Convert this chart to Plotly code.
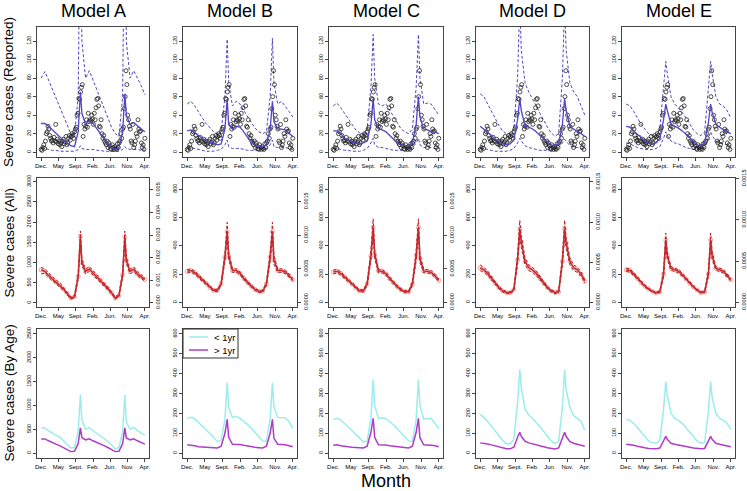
import numpy as np
import plotly.graph_objects as go

# ---------------- data ----------------
models = ["Model A", "Model B", "Model C", "Model D", "Model E"]
month_labels = ["Dec.", "May", "Sept.", "Feb.", "Jun.", "Nov.", "Apr."]
legend_labels = ["< 1yr", "> 1yr"]

# model output time grid (months since Dec.)
xg = list(range(0, 11)) + [10.6] + list(range(11, 23)) + [22.6] + list(range(23, 29))

# observed weekly reported severe cases
obs = [3, 2, 5, 8, 4, 12, 20, 22, 28, 25, 18, 15, 12, 13, 10, 16, 12, 30, 11, 14,
       9, 12, 8, 10, 6, 12, 14, 9, 11, 17, 8, 10, 15, 18, 13, 17, 20, 18, 15, 22,
       25, 27, 40, 42, 58, 57, 65, 70, 73, 17, 30, 25, 28, 35, 27, 42, 33, 35, 34, 40,
       36, 30, 42, 35, 48, 57, 58, 50, 28, 27, 35, 20, 15, 18, 12, 10, 8, 12, 5, 10,
       7, 4, 3, 8, 5, 3, 6, 4, 3, 9, 5, 10, 12, 20, 15, 25, 27, 47, 60, 88,
       73, 40, 35, 28, 25, 12, 10, 30, 5, 8, 12, 20, 17, 35, 25, 22, 23, 10, 5, 8,
       3, 15]

# Row 1: reported (median, upper, lower)
A_med = [31,31,28,24,20,16,13,10,7,6,22, 65, 42,30,34,31,26,20,14,9,5,3,5,22, 63, 40,30,32,28,25,22]
A_up  = [80,87,78,68,58,48,38,28,20,18,60, 300, 120,80,88,78,68,57,47,37,27,20,17,60, 300, 120,80,88,80,72,62]
A_lo  = [5,4,3,2,2,1,1,1,1,1,3, 7, 4,3,3,3,2,2,1,1,1,1,1,3, 6, 4,3,3,3,2,2]
B_med = [23,24,21,18,15,12,11,10,8,9,25, 57, 30,25,28,27,22,16,12,8,6,6,8,25, 55, 33,25,25,24,20,17]
B_up  = [52,55,50,43,37,31,26,22,20,22,60, 122, 75,50,55,52,45,38,32,26,22,20,22,60, 123, 75,52,55,50,44,38]
B_lo  = [6,5,4,3,2,1,1,1,2,3,8, 13, 6,4,4,4,3,2,2,2,2,3,4,8, 13, 6,5,5,5,4,3]
C_med = [23,23,20,15,13,11,10,9,10,12,30, 58, 35,25,24,22,18,14,10,8,7,7,10,30, 60, 38,25,24,22,22,20]
C_up  = [50,53,48,42,35,29,24,21,20,25,70, 127, 80,52,50,52,45,38,31,25,22,20,25,70, 127, 80,52,53,52,46,40]
C_lo  = [4,4,3,2,2,1,1,1,2,4,10, 15, 8,5,5,4,3,2,2,2,2,3,5,10, 15, 8,5,5,5,4,4]
D_med = [28,25,22,18,14,11,9,8,9,13,35, 58, 45,28,27,25,22,18,14,11,8,7,9,30, 58, 45,28,25,22,20,17]
D_up  = [63,60,52,44,36,29,23,20,20,25,80, 160, 110,75,65,58,50,42,34,27,21,17,20,80, 160, 110,75,65,60,50,40]
D_lo  = [5,4,3,2,1,1,1,1,2,4,10, 15, 12,7,5,4,3,2,2,2,2,3,5,10, 14, 12,7,5,5,4,3]
E_med = [28,27,23,19,15,12,10,9,10,15,35, 52, 45,30,28,26,23,19,15,11,8,7,10,32, 52, 43,30,27,24,22,20]
E_up  = [52,50,44,37,30,25,20,18,18,25,70, 98, 85,60,52,48,43,37,30,24,20,18,22,70, 98, 85,60,52,50,45,37]
E_lo  = [10,9,7,5,4,3,3,3,4,6,15, 22, 18,12,10,9,7,5,4,3,3,3,5,15, 22, 18,12,10,9,8,7]

# Row 2: all severe cases (median, upper, lower)
A2_med = [820,780,680,600,520,450,350,240,120,150,650, 1650, 1000,780,840,740,650,560,460,360,250,120,180,700, 1630, 1050,780,830,720,650,580]
A2_up  = [880,840,740,650,570,500,390,280,150,190,720, 1780, 1080,840,900,800,700,610,500,400,290,150,220,770, 1780, 1130,840,890,780,700,630]
A2_lo  = [720,730,630,550,480,410,310,200,95,120,580, 1500, 920,720,780,690,600,510,420,320,210,95,150,630, 1480, 970,720,770,670,600,540]
B2_med = [220,225,210,185,160,135,105,85,85,130,320, 500, 330,225,225,205,170,140,115,92,78,78,130,320, 500, 300,225,225,215,190,160]
B2_up  = [232,237,222,196,170,145,114,93,93,143,350, 565, 360,238,237,217,181,150,124,100,86,86,142,350, 565, 330,238,237,227,201,170]
B2_lo  = [208,213,198,174,150,125,96,77,77,118,290, 450, 300,212,213,193,159,130,106,84,70,70,118,290, 450, 270,212,213,203,179,150]
C2_med = [215,220,205,180,155,130,102,82,82,130,330, 530, 340,222,220,202,168,138,112,90,76,76,130,330, 530, 310,222,220,212,188,155]
C2_up  = [228,233,217,191,165,140,111,90,90,145,365, 590, 370,235,232,214,179,148,121,98,84,84,144,365, 590, 340,235,232,224,199,165]
C2_lo  = [202,207,193,169,145,120,93,74,74,115,295, 470, 310,209,208,190,157,128,103,82,68,68,116,295, 470, 280,209,208,200,177,145]
D2_med = [245,230,205,170,135,105,82,70,68,90,300, 520, 430,290,245,230,205,170,135,105,82,70,75,290, 520, 420,290,245,230,200,150]
D2_up  = [265,248,221,184,146,114,90,77,75,100,330, 580, 470,315,265,248,221,184,146,114,90,77,83,320, 580, 460,315,265,248,216,163]
D2_lo  = [225,212,189,156,124,96,74,63,61,80,270, 470, 390,265,225,212,189,156,124,96,74,63,67,260, 470, 380,265,225,212,184,137]
E2_med = [230,225,200,170,140,115,95,78,68,75,200, 440, 330,240,230,220,195,165,135,110,88,70,75,200, 440, 330,240,230,220,190,160]
E2_up  = [242,237,211,180,148,122,101,83,73,82,225, 490, 360,253,242,232,206,175,143,117,94,75,82,225, 490, 360,253,242,232,201,170]
E2_lo  = [218,213,189,160,132,108,89,73,63,68,180, 400, 300,227,218,208,184,155,127,103,82,65,68,180, 400, 300,227,218,208,179,150]

# Row 3: by age (<1yr, >1yr)
A3_lt = [530,530,470,420,380,340,270,200,110,120,450, 1230, 700,500,540,470,420,370,310,250,180,95,120,450, 1220, 650,500,540,480,420,380]
A3_gt = [300,300,260,220,190,160,120,80,35,40,200, 530, 330,280,300,260,230,200,160,120,80,35,40,200, 530, 320,280,300,260,220,190]
B3_lt = [175,180,172,155,135,118,100,80,58,65,170, 355, 230,180,185,175,160,145,125,105,85,62,60,170, 355, 230,180,180,178,160,125]
B3_gt = [43,42,38,33,31,30,29,28,26,35,100, 170, 80,45,45,44,40,36,32,30,28,26,35,100, 170, 75,45,44,42,38,33]
C3_lt = [170,175,168,150,130,112,95,75,57,62,175, 370, 240,175,178,172,158,143,123,103,83,62,60,170, 370, 240,172,172,175,150,122]
C3_gt = [40,42,38,34,32,30,29,28,26,35,105, 175, 80,42,42,41,38,35,32,30,28,26,35,105, 175, 78,42,42,40,37,33]
D3_lt = [195,180,160,135,115,90,65,48,47,70,250, 420, 330,220,192,175,155,133,110,85,62,48,60,230, 420, 320,230,190,175,160,115]
D3_gt = [52,50,46,42,37,32,27,23,22,30,80, 105, 85,60,52,48,43,38,33,28,24,21,27,80, 105, 85,58,50,46,41,35]
E3_lt = [170,165,150,128,105,82,62,52,50,65,220, 360, 290,200,175,165,150,128,105,82,62,50,55,210, 360, 280,200,175,165,150,120]
E3_gt = [45,43,40,35,30,27,24,22,22,26,60, 85, 70,50,45,42,38,34,30,26,23,22,24,60, 85, 70,50,45,42,38,33]

row1 = [(A_med, A_up, A_lo), (B_med, B_up, B_lo), (C_med, C_up, C_lo), (D_med, D_up, D_lo), (E_med, E_up, E_lo)]
row2 = [(A2_med, A2_up, A2_lo), (B2_med, B2_up, B2_lo), (C2_med, C2_up, C2_lo), (D2_med, D2_up, D2_lo), (E2_med, E2_up, E2_lo)]
row3 = [(A3_lt, A3_gt), (B3_lt, B3_gt), (C3_lt, C3_gt), (D3_lt, D3_gt), (E3_lt, E3_gt)]

# axis settings
row_labels = ["Severe cases (Reported)", "Severe cases (All)", "Severe cases (By Age)"]
y1_ticks = [0, 20, 40, 60, 80, 100, 120]
y2_ticks_A = [0, 500, 1000, 1500, 2000, 2500, 3000]
y2_ticks = [0, 200, 400, 600, 800]
y3_ticks_A = [0, 500, 1000, 1500, 2000, 2500]
y3_ticks = [0, 100, 200, 300, 400, 500, 600]
r2_ticks_A = [0, 0.001, 0.002, 0.003, 0.004, 0.005]
r2_text_A = ["0.000", "0.001", "0.002", "0.003", "0.004", "0.005"]
r2_ticks = [0, 0.0005, 0.0010, 0.0015]
r2_text = ["0.0000", "0.0005", "0.0010", "0.0015"]
r2_ranges = [[-0.00018, 0.00553], [-0.0000675, 0.00185], [-0.0000675, 0.00185],
             [-0.0000564, 0.001549], [-0.000055, 0.001509]]

# ---------------- layout geometry ----------------
W, H = 747, 491
col_px = [(37, 149), (183, 297), (329, 443), (476, 589), (622, 735)]
row_px = [(27, 157), (178, 307), (329, 458)]

FONT = "Liberation Sans, Arial, Helvetica, sans-serif"
BLUE = "#4F45C6"
RED = "#B5191E"
PINK = "#F2A2A2"
CYAN = "#9BEDED"
PURPLE = "#B03CC6"
AXC = "#444444"

fig = go.Figure()
layout = dict(width=W, height=H, margin=dict(l=0, r=0, t=0, b=0, autoexpand=False),
              paper_bgcolor="white", plot_bgcolor="white", showlegend=False,
              font=dict(family=FONT, color="black"))

xtick = list(np.linspace(0, 28, 7))

for r in range(3):
    for c in range(5):
        n = r * 5 + c + 1
        xa, ya = f"x{n}", f"y{n}"
        xl, xr = col_px[c]
        yt, yb = row_px[r]
        layout[f"xaxis{n}"] = dict(domain=[xl / W, xr / W], anchor=ya, range=[-1.12, 29.12],
                                   tickvals=xtick, ticktext=month_labels, tickfont=dict(size=6),
                                   showline=True, mirror=True, linecolor=AXC, linewidth=1,
                                   ticks="outside", ticklen=3, tickcolor=AXC,
                                   showgrid=False, zeroline=False, fixedrange=True)
        if r == 0:
            yr, yticks = [-5.2, 135.2], y1_ticks
        elif r == 1:
            yr, yticks = ([-100, 3090], y2_ticks_A) if c == 0 else ([-32, 878], y2_ticks)
        else:
            yr, yticks = ([-100, 2600], y3_ticks_A) if c == 0 else ([-24, 624], y3_ticks)
        layout[f"yaxis{n}"] = dict(domain=[1 - yb / H, 1 - yt / H], anchor=xa, range=yr,
                                   tickvals=yticks, tickangle=-90, tickfont=dict(size=5.5),
                                   showline=True, mirror=True, linecolor=AXC, linewidth=1,
                                   ticks="outside", ticklen=3, tickcolor=AXC,
                                   showgrid=False, zeroline=False, fixedrange=True)

        if r == 0:
            med, up, lo = row1[c]
            for arr in (up, lo):
                fig.add_trace(go.Scatter(x=xg, y=arr, mode="lines", xaxis=xa, yaxis=ya,
                                         line=dict(color=BLUE, width=1, dash="3px,2px"),
                                         hoverinfo="skip"))
            fig.add_trace(go.Scatter(x=list(np.arange(len(obs)) * 28 / (len(obs) - 1)), y=obs,
                                     mode="markers", xaxis=xa, yaxis=ya,
                                     marker=dict(symbol="circle-open", size=4, color="#222222",
                                                 line=dict(width=0.8)),
                                     hoverinfo="skip"))
            fig.add_trace(go.Scatter(x=xg, y=med, mode="lines", xaxis=xa, yaxis=ya,
                                     line=dict(color=BLUE, width=1.3), hoverinfo="skip"))
        elif r == 1:
            med, up, lo = row2[c]
            fig.add_trace(go.Scatter(x=xg, y=med, mode="markers", xaxis=xa, yaxis=ya,
                                     marker=dict(symbol="circle-open", size=4, color=PINK,
                                                 line=dict(width=1)),
                                     hoverinfo="skip"))
            for arr in (up, lo):
                fig.add_trace(go.Scatter(x=xg, y=arr, mode="lines", xaxis=xa, yaxis=ya,
                                         line=dict(color=RED, width=1, dash="3px,2px"),
                                         hoverinfo="skip"))
            fig.add_trace(go.Scatter(x=xg, y=med, mode="lines", xaxis=xa, yaxis=ya,
                                     line=dict(color="#C8282C", width=1.6), hoverinfo="skip"))
            # secondary (right) axis
            m = 16 + c
            layout[f"yaxis{m}"] = dict(overlaying=ya, anchor=xa, side="right",
                                       range=r2_ranges[c],
                                       tickvals=r2_ticks_A if c == 0 else r2_ticks,
                                       ticktext=r2_text_A if c == 0 else r2_text,
                                       tickangle=-90, tickfont=dict(size=5.5),
                                       showline=False, ticks="outside", ticklen=3, tickcolor=AXC,
                                       showgrid=False, zeroline=False, fixedrange=True)
            fig.add_trace(go.Scatter(x=[None], y=[None], mode="lines", xaxis=xa, yaxis=f"y{m}",
                                     hoverinfo="skip"))
        else:
            lt, gt = row3[c]
            fig.add_trace(go.Scatter(x=xg, y=lt, mode="lines", xaxis=xa, yaxis=ya,
                                     name=legend_labels[0],
                                     line=dict(color=CYAN, width=1.5), hoverinfo="skip"))
            fig.add_trace(go.Scatter(x=xg, y=gt, mode="lines", xaxis=xa, yaxis=ya,
                                     name=legend_labels[1],
                                     line=dict(color=PURPLE, width=1.5), hoverinfo="skip"))

annotations = []
for c, name in enumerate(models):
    xl, xr = col_px[c]
    annotations.append(dict(x=(xl + xr) / 2 / W, y=1 - 11 / H, xref="paper", yref="paper",
                            text=name, showarrow=False, font=dict(size=18, family=FONT),
                            xanchor="center", yanchor="middle"))
for r, lab in enumerate(row_labels):
    yt, yb = row_px[r]
    annotations.append(dict(x=9 / W, y=1 - (yt + yb) / 2 / H, xref="paper", yref="paper",
                            text=lab, showarrow=False, textangle=-90,
                            font=dict(size=13.5, family=FONT),
                            xanchor="center", yanchor="middle"))
annotations.append(dict(x=386 / W, y=1 - 481 / H, xref="paper", yref="paper", text="Month",
                        showarrow=False, font=dict(size=18, family=FONT),
                        xanchor="center", yanchor="middle"))

# compact boxed legend inside Model B (row 3), drawn like R's legend()
shapes = []
lx0, ly0, lx1, ly1 = 183, 329, 238, 358
shapes.append(dict(type="rect", xref="paper", yref="paper",
                   x0=lx0 / W, x1=lx1 / W, y0=1 - ly1 / H, y1=1 - ly0 / H,
                   line=dict(color="#333333", width=1), fillcolor="white", layer="above"))
for i, (lab, col) in enumerate(zip(legend_labels, [CYAN, PURPLE])):
    yy = ly0 + 8 + i * 13
    shapes.append(dict(type="line", xref="paper", yref="paper",
                       x0=(lx0 + 6) / W, x1=(lx0 + 25) / W, y0=1 - yy / H, y1=1 - yy / H,
                       line=dict(color=col, width=1.5), layer="above"))
    annotations.append(dict(x=(lx0 + 29) / W, y=1 - yy / H, xref="paper", yref="paper",
                            text=lab, showarrow=False, font=dict(size=9.5, family=FONT),
                            xanchor="left", yanchor="middle"))
layout["annotations"] = annotations
layout["shapes"] = shapes
fig.update_layout(**layout)
fig.write_html("out.html", config={"displayModeBar": False},
               post_script="document.body.style.margin='0';")
